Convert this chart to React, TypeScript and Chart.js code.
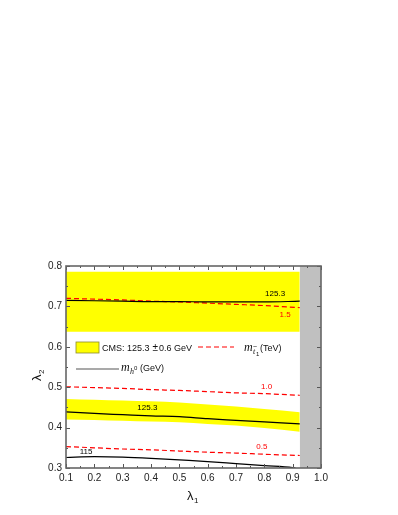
import React, { useEffect, useRef } from "react";
import { Chart, registerables } from "chart.js";

Chart.register(...registerables);

// ---- data ----
const lam1 = [0.1, 0.2, 0.3, 0.4, 0.5, 0.6, 0.7, 0.8, 0.925];
const upperBandTop = [0.786, 0.786, 0.786, 0.786, 0.786, 0.786, 0.786, 0.786, 0.786];
const upperBandBottom = [0.637, 0.637, 0.637, 0.637, 0.637, 0.637, 0.637, 0.637, 0.637];
const upperHiggs = [0.715, 0.714, 0.713, 0.712, 0.712, 0.711, 0.711, 0.711, 0.713];
const upperStop15 = [0.72, 0.718, 0.716, 0.713, 0.711, 0.708, 0.705, 0.702, 0.697];
const lowerBandTop = [0.471, 0.469, 0.467, 0.465, 0.462, 0.457, 0.452, 0.446, 0.438];
const lowerBandBottom = [0.42, 0.419, 0.417, 0.415, 0.413, 0.409, 0.405, 0.399, 0.39];
const lowerHiggs = [0.439, 0.435, 0.432, 0.429, 0.427, 0.422, 0.418, 0.414, 0.409];
const stop10 = [0.501, 0.499, 0.497, 0.494, 0.492, 0.489, 0.486, 0.484, 0.48];
const stop05 = [0.353, 0.35, 0.347, 0.345, 0.342, 0.339, 0.337, 0.334, 0.331];
const lam1Higgs115 = [0.1, 0.2, 0.3, 0.4, 0.5, 0.6, 0.7, 0.8, 0.9, 0.91];
const higgs115 = [0.326, 0.328, 0.327, 0.324, 0.32, 0.316, 0.311, 0.306, 0.301, 0.3];
const excludedStart = 0.925;
const xTicks = [0.1, 0.2, 0.3, 0.4, 0.5, 0.6, 0.7, 0.8, 0.9, 1.0];
const yTicks = [0.3, 0.4, 0.5, 0.6, 0.7, 0.8];

// curve labels: [text, lambda1, lambda2, colour]
const curveLabels: [string, number, number, string][] = [
  ["125.3", 0.838, 0.732, "#000"],
  ["1.5", 0.873, 0.679, "#ff0000"],
  ["1.0", 0.808, 0.5, "#ff0000"],
  ["125.3", 0.387, 0.449, "#000"],
  ["0.5", 0.791, 0.353, "#ff0000"],
  ["115", 0.171, 0.34, "#000"],
];

const pts = (xs: number[], ys: number[]) => xs.map((x, i) => ({ x, y: ys[i] }));

const SANS = "'Liberation Sans', Arial, sans-serif";
const SERIF = "'Liberation Serif', 'Times New Roman', serif";

const decor = {
  id: "decor",
  afterDatasetsDraw(chart: any) {
    const ctx = chart.ctx;
    const xs = chart.scales.x;
    const ys = chart.scales.y;
    ctx.save();
    ctx.font = `8px ${SANS}`;
    ctx.textAlign = "center";
    ctx.textBaseline = "middle";
    for (const [t, x, y, c] of curveLabels) {
      ctx.fillStyle = c;
      ctx.fillText(t, xs.getPixelForValue(x), ys.getPixelForValue(y));
    }
    ctx.restore();
  },
  afterDraw(chart: any) {
    const ctx = chart.ctx;
    const a = chart.chartArea;
    const xs = chart.scales.x;
    const ys = chart.scales.y;
    ctx.save();
    // ticks (inward, all four sides)
    ctx.strokeStyle = "#555";
    ctx.lineWidth = 1;
    for (let v = 0.1; v <= 1.0001; v += 0.05) {
      const major = Math.abs(Math.round(v * 10) - v * 10) < 1e-6;
      const len = major ? 4 : 2;
      const px = Math.round(xs.getPixelForValue(v)) + 0.5;
      ctx.beginPath();
      ctx.moveTo(px, a.bottom);
      ctx.lineTo(px, a.bottom - len);
      ctx.moveTo(px, a.top);
      ctx.lineTo(px, a.top + len);
      ctx.stroke();
    }
    for (let v = 0.3; v <= 0.8001; v += 0.05) {
      const major = Math.abs(Math.round(v * 10) - v * 10) < 1e-6;
      const len = major ? 4 : 2;
      const py = Math.round(ys.getPixelForValue(v)) + 0.5;
      ctx.beginPath();
      ctx.moveTo(a.left, py);
      ctx.lineTo(a.left + len, py);
      ctx.moveTo(a.right, py);
      ctx.lineTo(a.right - len, py);
      ctx.stroke();
    }
    // frame
    ctx.strokeStyle = "#666";
    ctx.lineWidth = 1.6;
    ctx.strokeRect(a.left, a.top, a.right - a.left, a.bottom - a.top);

    // axis titles
    ctx.fillStyle = "#111";
    ctx.textBaseline = "alphabetic";
    ctx.textAlign = "left";
    // lambda_1
    ctx.font = `13px ${SANS}`;
    ctx.fillText("λ", 187, 500);
    ctx.font = `8px ${SANS}`;
    ctx.fillText("1", 194, 503);
    // lambda_2 rotated
    ctx.save();
    ctx.translate(41, 381);
    ctx.rotate(-Math.PI / 2);
    ctx.font = `13px ${SANS}`;
    ctx.fillText("λ", 0, 0);
    ctx.font = `8px ${SANS}`;
    ctx.fillText("2", 7, 3);
    ctx.restore();

    // legend
    ctx.fillStyle = "#ffff00";
    ctx.fillRect(76, 342, 23, 11);
    ctx.strokeStyle = "#8a8a30";
    ctx.lineWidth = 0.8;
    ctx.strokeRect(76, 342, 23, 11);
    ctx.fillStyle = "#111";
    ctx.font = `9px ${SANS}`;
    ctx.fillText("CMS: 125.3", 102, 351);
    const w1 = ctx.measureText("CMS: 125.3").width;
    ctx.font = `10px ${SANS}`;
    ctx.fillText("±", 102 + w1 + 3, 351);
    const w2 = ctx.measureText("±").width;
    ctx.font = `9px ${SANS}`;
    ctx.fillText("0.6 GeV", 102 + w1 + 3 + w2 + 1, 351);

    // black line legend
    ctx.strokeStyle = "#555";
    ctx.lineWidth = 1.2;
    ctx.beginPath();
    ctx.moveTo(76, 369);
    ctx.lineTo(119, 369);
    ctx.stroke();
    ctx.fillStyle = "#111";
    ctx.font = `italic 12px ${SERIF}`;
    ctx.fillText("m", 121, 371);
    ctx.font = `italic 8px ${SERIF}`;
    ctx.fillText("h", 130, 374);
    ctx.font = `6px ${SANS}`;
    ctx.fillText("0", 134, 370);
    ctx.font = `9px ${SANS}`;
    ctx.fillText("(GeV)", 140, 371);

    // red dashed legend
    ctx.strokeStyle = "#ff0000";
    ctx.setLineDash([5, 3]);
    ctx.beginPath();
    ctx.moveTo(198, 347);
    ctx.lineTo(234, 347);
    ctx.stroke();
    ctx.setLineDash([]);
    ctx.fillStyle = "#111";
    ctx.font = `italic 12px ${SERIF}`;
    ctx.fillText("m", 244, 351);
    ctx.font = `italic 8px ${SERIF}`;
    ctx.fillText("t", 253, 354);
    ctx.font = `7px ${SANS}`;
    ctx.fillText("~", 253, 349);
    ctx.font = `6px ${SANS}`;
    ctx.fillText("1", 256, 356);
    ctx.font = `9px ${SANS}`;
    ctx.fillText("(TeV)", 260, 351);
    ctx.restore();
  },
};

export default function App() {
  const ref = useRef<HTMLCanvasElement | null>(null);
  useEffect(() => {
    if (!ref.current) return;
    const lineBase = { pointRadius: 0, fill: false, cubicInterpolationMode: "monotone" as const };
    const chart = new Chart(ref.current, {
      type: "line",
      data: {
        datasets: [
          { ...lineBase, data: pts(lam1, upperHiggs), borderColor: "#000", borderWidth: 1.2, order: 0 },
          { ...lineBase, data: pts(lam1, upperStop15), borderColor: "#ff0000", borderWidth: 1.2, borderDash: [5, 3], order: 0 },
          { ...lineBase, data: pts(lam1, lowerHiggs), borderColor: "#000", borderWidth: 1.2, order: 0 },
          { ...lineBase, data: pts(lam1, stop10), borderColor: "#ff0000", borderWidth: 1.2, borderDash: [5, 3], order: 0 },
          { ...lineBase, data: pts(lam1, stop05), borderColor: "#ff0000", borderWidth: 1.2, borderDash: [5, 3], order: 0 },
          { ...lineBase, data: pts(lam1Higgs115, higgs115), borderColor: "#000", borderWidth: 1.2, order: 0 },
          // bands
          { ...lineBase, data: pts(lam1, upperBandTop), borderWidth: 0, borderColor: "rgba(0,0,0,0)", backgroundColor: "#ffff00", fill: "+1", order: 10 },
          { ...lineBase, data: pts(lam1, upperBandBottom), borderWidth: 0, borderColor: "rgba(0,0,0,0)", order: 10 },
          { ...lineBase, data: pts(lam1, lowerBandTop), borderWidth: 0, borderColor: "rgba(0,0,0,0)", backgroundColor: "#ffff00", fill: "+1", order: 10 },
          { ...lineBase, data: pts(lam1, lowerBandBottom), borderWidth: 0, borderColor: "rgba(0,0,0,0)", order: 10 },
          // excluded region
          {
            ...lineBase,
            data: [{ x: excludedStart, y: 0.8 }, { x: 1.0, y: 0.8 }],
            borderWidth: 0,
            borderColor: "rgba(0,0,0,0)",
            backgroundColor: "#c0c0c0",
            fill: "start",
            order: 5,
          },
        ],
      },
      options: {
        animation: false,
        responsive: false,
        parsing: true,
        layout: { padding: { top: 266, right: 77, left: 0, bottom: 0 } },
        plugins: { legend: { display: false }, tooltip: { enabled: false } },
        scales: {
          x: {
            type: "linear",
            min: 0.1,
            max: 1.0,
            afterFit: (s: any) => { s.height = 47; },
            afterBuildTicks: (s: any) => { s.ticks = xTicks.map((v) => ({ value: v })); },
            grid: { display: false, drawTicks: false },
            border: { display: false },
            ticks: {
              padding: 4,
              maxRotation: 0,
              autoSkip: false,
              color: "#222",
              font: { family: SANS, size: 10 },
              callback: (v: any) => Number(v).toFixed(1),
            },
          },
          y: {
            type: "linear",
            min: 0.3,
            max: 0.8,
            afterFit: (s: any) => { s.width = 66; },
            afterBuildTicks: (s: any) => { s.ticks = yTicks.map((v) => ({ value: v })); },
            grid: { display: false, drawTicks: false },
            border: { display: false },
            ticks: {
              padding: 4,
              autoSkip: false,
              color: "#222",
              font: { family: SANS, size: 10 },
              callback: (v: any) => Number(v).toFixed(1),
            },
          },
        },
      },
      plugins: [decor],
    });
    return () => chart.destroy();
  }, []);
  return (
    <div style={{ position: "absolute", left: 0, top: 0, width: 398, height: 515, background: "#fff" }}>
      <canvas ref={ref} width={398} height={515} style={{ width: 398, height: 515 }} />
    </div>
  );
}
